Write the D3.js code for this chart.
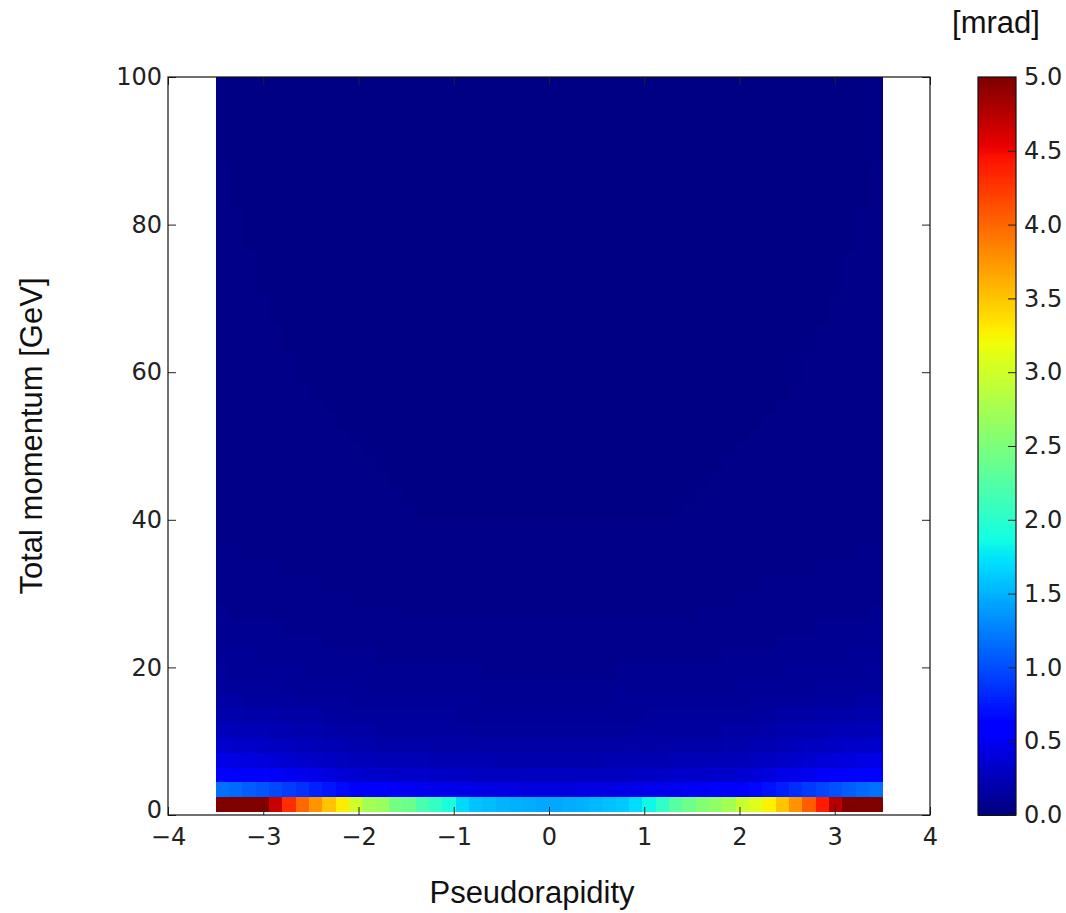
<!DOCTYPE html>
<html>
<head>
<meta charset="utf-8">
<script src="https://cdn.jsdelivr.net/npm/d3@7"></script>
<style>
  body { margin: 0; background: #fff; }
  svg { display: block; }
  .tick text { font-family: "DejaVu Sans", sans-serif; font-size: 24px; fill: #222; }
  .tick line { stroke: #222; stroke-width: 1; }
  .label { font-family: "Liberation Sans", Arial, sans-serif; font-size: 31px; fill: #111; }
</style>
</head>
<body>
<svg id="chart" width="1066" height="913"></svg>
<script>
// Pseudorapidity bin edges: 50 bins between -3.5 and 3.5
const etaEdges = d3.range(51).map(i => +(-3.5 + 0.14 * i).toFixed(2));

// Total momentum bin edges [GeV]
const momentumEdges = [0.5, 2.5, 4.5, 6.5, 8.5, 10.5, 12.5, 14.5, 16.5, 18.5, 20.5,
  22.5, 24.5, 26.5, 28.5, 30.5, 32.5, 34.5, 36.5, 38.5, 40.5, 42.5, 44.5, 46.5, 48.5,
  50.5, 52.5, 54.5, 56.5, 58.5, 60.5, 62.5, 64.5, 66.5, 68.5, 70.5, 72.5, 74.5, 76.5,
  78.5, 80.5, 82.5, 84.5, 86.5, 88.5, 90.5, 92.5, 94.5, 96.5, 98.5, 100];

// Angular resolution [mrad], one row per momentum bin (lowest first), one value per eta bin
const thetaRows = [
  [6.6,6.1,5.6,5.15,4.67,4.3,4.0,3.75,3.5,3.3,3.0,2.75,2.68,2.45,2.4,2.2,2.06,1.9,1.69,1.6,1.56,1.52,1.5,1.48,1.45,
   1.45,1.47,1.5,1.53,1.57,1.62,1.7,1.85,2.05,2.28,2.42,2.55,2.62,2.75,2.95,3.1,3.28,3.5,3.75,4.05,4.4,4.75,5.2,5.7,6.2],
  [1.18,1.15,1.08,1.04,.98,.92,.86,.8,.73,.67,.62,.58,.55,.53,.51,.5,.48,.47,.46,.45,.44,.43,.43,.42,.42,
   .42,.42,.43,.43,.44,.45,.46,.47,.48,.5,.51,.53,.55,.58,.62,.66,.72,.78,.84,.9,.96,1.02,1.08,1.14,1.18],
  [.62,.61,.58,.56,.53,.50,.48,.45,.42,.39,.37,.35,.34,.33,.32,.32,.31,.30,.30,.29,.29,.28,.28,.28,.28,
   .28,.28,.28,.28,.29,.29,.30,.30,.31,.32,.32,.33,.34,.35,.37,.39,.42,.45,.48,.50,.53,.56,.58,.61,.62],
  [.45,.44,.42,.41,.39,.37,.35,.33,.31,.29,.27,.26,.25,.24,.24,.24,.23,.23,.22,.22,.22,.21,.21,.21,.21,
   .21,.21,.21,.21,.22,.22,.22,.23,.23,.24,.24,.24,.25,.26,.27,.29,.31,.33,.35,.37,.39,.41,.42,.44,.45],
  [.34,.33,.32,.31,.29,.28,.26,.25,.23,.22,.21,.20,.19,.19,.18,.18,.17,.17,.17,.17,.16,.16,.16,.16,.16,
   .16,.16,.16,.16,.16,.17,.17,.17,.17,.18,.18,.19,.19,.20,.21,.22,.23,.25,.26,.28,.29,.31,.32,.33,.34],
  [.26,.25,.24,.24,.23,.22,.21,.20,.18,.17,.16,.16,.15,.15,.15,.14,.14,.14,.14,.13,.13,.13,.13,.13,.13,
   .13,.13,.13,.13,.13,.13,.14,.14,.14,.14,.15,.15,.15,.16,.16,.17,.18,.20,.21,.22,.23,.24,.24,.25,.26],
  [.20,.20,.19,.18,.18,.17,.16,.16,.15,.14,.13,.13,.13,.12,.12,.12,.12,.12,.11,.11,.11,.11,.11,.11,.11,
   .11,.11,.11,.11,.11,.11,.11,.12,.12,.12,.12,.12,.13,.13,.13,.14,.15,.16,.16,.17,.18,.18,.19,.20,.20],
  [.16,.16,.15,.15,.14,.14,.13,.13,.12,.12,.11,.11,.11,.10,.10,.10,.10,.10,.10,.10,.09,.09,.09,.09,.09,
   .09,.09,.09,.09,.09,.10,.10,.10,.10,.10,.10,.10,.11,.11,.11,.12,.12,.13,.13,.14,.14,.15,.15,.16,.16],
  [.13,.13,.12,.12,.12,.11,.11,.11,.10,.10,.10,.09,.09,.09,.09,.09,.09,.09,.09,.08,.08,.08,.08,.08,.08,
   .08,.08,.08,.08,.08,.08,.09,.09,.09,.09,.09,.09,.09,.09,.10,.10,.10,.11,.11,.11,.12,.12,.12,.13,.13],
  [.12,.11,.11,.11,.10,.10,.10,.09,.09,.09,.09,.08,.08,.08,.08,.08,.08,.08,.08,.08,.07,.07,.07,.07,.07,
   .07,.07,.07,.07,.07,.08,.08,.08,.08,.08,.08,.08,.08,.08,.09,.09,.09,.09,.10,.10,.10,.11,.11,.11,.12],
  [.10,.10,.10,.09,.09,.09,.09,.08,.08,.08,.08,.08,.07,.07,.07,.07,.07,.07,.07,.07,.07,.07,.07,.07,.07,
   .07,.07,.07,.07,.07,.07,.07,.07,.07,.07,.07,.07,.07,.08,.08,.08,.08,.08,.09,.09,.09,.09,.10,.10,.10],
  [.09,.09,.09,.08,.08,.08,.08,.08,.07,.07,.07,.07,.07,.07,.07,.06,.06,.06,.06,.06,.06,.06,.06,.06,.06,
   .06,.06,.06,.06,.06,.06,.06,.06,.06,.06,.07,.07,.07,.07,.07,.07,.07,.08,.08,.08,.08,.08,.09,.09,.09],
  [.08,.08,.08,.08,.08,.07,.07,.07,.07,.07,.06,.06,.06,.06,.06,.06,.06,.06,.06,.06,.06,.06,.06,.06,.06,
   .06,.06,.06,.06,.06,.06,.06,.06,.06,.06,.06,.06,.06,.06,.06,.07,.07,.07,.07,.07,.08,.08,.08,.08,.08],
  [.08,.07,.07,.07,.07,.07,.07,.06,.06,.06,.06,.06,.06,.06,.05,.05,.05,.05,.05,.05,.05,.05,.05,.05,.05,
   .05,.05,.05,.05,.05,.05,.05,.05,.05,.05,.05,.06,.06,.06,.06,.06,.06,.06,.07,.07,.07,.07,.07,.07,.08],
  [.07,.07,.07,.07,.06,.06,.06,.06,.06,.06,.05,.05,.05,.05,.05,.05,.05,.05,.05,.05,.05,.05,.05,.05,.05,
   .05,.05,.05,.05,.05,.05,.05,.05,.05,.05,.05,.05,.05,.05,.06,.06,.06,.06,.06,.06,.07,.07,.07,.07,.07],
  [.07,.06,.06,.06,.06,.06,.06,.06,.05,.05,.05,.05,.05,.05,.05,.05,.05,.05,.04,.04,.04,.04,.04,.04,.04,
   .04,.04,.04,.04,.04,.04,.04,.05,.05,.05,.05,.05,.05,.05,.05,.05,.06,.06,.06,.06,.06,.06,.06,.06,.07],
  [.06,.06,.06,.06,.06,.05,.05,.05,.05,.05,.05,.05,.05,.04,.04,.04,.04,.04,.04,.04,.04,.04,.04,.04,.04,
   .04,.04,.04,.04,.04,.04,.04,.04,.04,.04,.04,.04,.05,.05,.05,.05,.05,.05,.05,.05,.06,.06,.06,.06,.06],
  [.06,.06,.05,.05,.05,.05,.05,.05,.05,.05,.04,.04,.04,.04,.04,.04,.04,.04,.04,.04,.04,.04,.04,.04,.04,
   .04,.04,.04,.04,.04,.04,.04,.04,.04,.04,.04,.04,.04,.04,.04,.05,.05,.05,.05,.05,.05,.05,.05,.06,.06],
  [.05,.05,.05,.05,.05,.05,.05,.05,.04,.04,.04,.04,.04,.04,.04,.04,.04,.04,.04,.04,.04,.04,.04,.04,.04,
   .04,.04,.04,.04,.04,.04,.04,.04,.04,.04,.04,.04,.04,.04,.04,.04,.05,.05,.05,.05,.05,.05,.05,.05,.05],
  [.05,.05,.05,.05,.05,.05,.05,.04,.04,.04,.04,.04,.04,.04,.04,.04,.04,.04,.04,.04,.04,.04,.04,.04,.04,
   .04,.04,.04,.04,.04,.04,.04,.04,.04,.04,.04,.04,.04,.04,.04,.04,.04,.04,.05,.05,.05,.05,.05,.05,.05],
  [.05,.05,.05,.05,.05,.04,.04,.04,.04,.04,.04,.04,.04,.04,.04,.03,.03,.03,.03,.03,.03,.03,.03,.03,.03,
   .03,.03,.03,.03,.03,.03,.03,.03,.03,.03,.04,.04,.04,.04,.04,.04,.04,.04,.04,.04,.05,.05,.05,.05,.05],
  [.05,.05,.05,.05,.04,.04,.04,.04,.04,.04,.04,.04,.04,.04,.03,.03,.03,.03,.03,.03,.03,.03,.03,.03,.03,
   .03,.03,.03,.03,.03,.03,.03,.03,.03,.03,.03,.04,.04,.04,.04,.04,.04,.04,.04,.04,.04,.05,.05,.05,.05],
  [.05,.05,.05,.04,.04,.04,.04,.04,.04,.04,.04,.04,.04,.03,.03,.03,.03,.03,.03,.03,.03,.03,.03,.03,.03,
   .03,.03,.03,.03,.03,.03,.03,.03,.03,.03,.03,.03,.04,.04,.04,.04,.04,.04,.04,.04,.04,.04,.05,.05,.05],
  [.05,.05,.04,.04,.04,.04,.04,.04,.04,.04,.04,.04,.03,.03,.03,.03,.03,.03,.03,.03,.03,.03,.03,.03,.03,
   .03,.03,.03,.03,.03,.03,.03,.03,.03,.03,.03,.03,.03,.04,.04,.04,.04,.04,.04,.04,.04,.04,.04,.05,.05],
  [.05,.04,.04,.04,.04,.04,.04,.04,.04,.04,.04,.03,.03,.03,.03,.03,.03,.03,.03,.03,.03,.03,.03,.03,.03,
   .03,.03,.03,.03,.03,.03,.03,.03,.03,.03,.03,.03,.03,.03,.04,.04,.04,.04,.04,.04,.04,.04,.04,.04,.05],
  [.04,.04,.04,.04,.04,.04,.04,.04,.04,.04,.03,.03,.03,.03,.03,.03,.03,.03,.03,.03,.03,.03,.03,.03,.03,
   .03,.03,.03,.03,.03,.03,.03,.03,.03,.03,.03,.03,.03,.03,.03,.04,.04,.04,.04,.04,.04,.04,.04,.04,.04],
  [.04,.04,.04,.04,.04,.04,.04,.04,.04,.03,.03,.03,.03,.03,.03,.03,.03,.03,.03,.03,.03,.03,.03,.03,.03,
   .03,.03,.03,.03,.03,.03,.03,.03,.03,.03,.03,.03,.03,.03,.03,.03,.04,.04,.04,.04,.04,.04,.04,.04,.04],
  [.04,.04,.04,.04,.04,.04,.04,.04,.03,.03,.03,.03,.03,.03,.03,.03,.03,.03,.03,.03,.03,.03,.03,.03,.03,
   .03,.03,.03,.03,.03,.03,.03,.03,.03,.03,.03,.03,.03,.03,.03,.03,.03,.04,.04,.04,.04,.04,.04,.04,.04],
  [.04,.04,.04,.04,.04,.04,.04,.03,.03,.03,.03,.03,.03,.03,.03,.03,.03,.03,.03,.03,.03,.03,.03,.03,.03,
   .03,.03,.03,.03,.03,.03,.03,.03,.03,.03,.03,.03,.03,.03,.03,.03,.03,.03,.04,.04,.04,.04,.04,.04,.04],
  [.04,.04,.04,.04,.04,.04,.03,.03,.03,.03,.03,.03,.03,.03,.03,.03,.03,.03,.03,.03,.03,.03,.03,.03,.03,
   .03,.03,.03,.03,.03,.03,.03,.03,.03,.03,.03,.03,.03,.03,.03,.03,.03,.03,.03,.04,.04,.04,.04,.04,.04],
  [.04,.04,.04,.04,.04,.04,.03,.03,.03,.03,.03,.03,.03,.03,.03,.03,.03,.03,.03,.03,.03,.03,.03,.03,.03,
   .03,.03,.03,.03,.03,.03,.03,.03,.03,.03,.03,.03,.03,.03,.03,.03,.03,.03,.03,.04,.04,.04,.04,.04,.04],
  [.04,.04,.04,.04,.04,.03,.03,.03,.03,.03,.03,.03,.03,.03,.03,.03,.03,.03,.03,.03,.03,.03,.03,.03,.03,
   .03,.03,.03,.03,.03,.03,.03,.03,.03,.03,.03,.03,.03,.03,.03,.03,.03,.03,.03,.03,.04,.04,.04,.04,.04],
  [.04,.04,.04,.04,.04,.03,.03,.03,.03,.03,.03,.03,.03,.03,.03,.03,.03,.03,.03,.03,.03,.03,.03,.03,.03,
   .03,.03,.03,.03,.03,.03,.03,.03,.03,.03,.03,.03,.03,.03,.03,.03,.03,.03,.03,.03,.04,.04,.04,.04,.04],
  [.04,.04,.04,.04,.03,.03,.03,.03,.03,.03,.03,.03,.03,.03,.03,.03,.03,.03,.03,.03,.03,.03,.03,.03,.03,
   .03,.03,.03,.03,.03,.03,.03,.03,.03,.03,.03,.03,.03,.03,.03,.03,.03,.03,.03,.03,.03,.04,.04,.04,.04],
  [.04,.04,.04,.04,.03,.03,.03,.03,.03,.03,.03,.03,.03,.03,.03,.03,.03,.03,.03,.03,.03,.03,.03,.03,.03,
   .03,.03,.03,.03,.03,.03,.03,.03,.03,.03,.03,.03,.03,.03,.03,.03,.03,.03,.03,.03,.03,.04,.04,.04,.04],
  [.04,.04,.04,.03,.03,.03,.03,.03,.03,.03,.03,.03,.03,.03,.03,.03,.03,.03,.03,.03,.03,.03,.03,.03,.03,
   .03,.03,.03,.03,.03,.03,.03,.03,.03,.03,.03,.03,.03,.03,.03,.03,.03,.03,.03,.03,.03,.03,.04,.04,.04],
  [.04,.04,.04,.03,.03,.03,.03,.03,.03,.03,.03,.03,.03,.03,.03,.03,.03,.03,.03,.03,.03,.03,.03,.03,.03,
   .03,.03,.03,.03,.03,.03,.03,.03,.03,.03,.03,.03,.03,.03,.03,.03,.03,.03,.03,.03,.03,.03,.04,.04,.04],
  [.04,.04,.04,.03,.03,.03,.03,.03,.03,.03,.03,.03,.03,.03,.03,.03,.03,.03,.03,.03,.03,.03,.03,.03,.03,
   .03,.03,.03,.03,.03,.03,.03,.03,.03,.03,.03,.03,.03,.03,.03,.03,.03,.03,.03,.03,.03,.03,.04,.04,.04],
  [.04,.04,.03,.03,.03,.03,.03,.03,.03,.03,.03,.03,.03,.03,.03,.03,.03,.03,.03,.03,.03,.03,.03,.03,.03,
   .03,.03,.03,.03,.03,.03,.03,.03,.03,.03,.03,.03,.03,.03,.03,.03,.03,.03,.03,.03,.03,.03,.03,.04,.04],
  [.04,.04,.03,.03,.03,.03,.03,.03,.03,.03,.03,.03,.03,.03,.03,.03,.03,.03,.03,.03,.03,.03,.03,.03,.03,
   .03,.03,.03,.03,.03,.03,.03,.03,.03,.03,.03,.03,.03,.03,.03,.03,.03,.03,.03,.03,.03,.03,.03,.04,.04],
  [.04,.04,.03,.03,.03,.03,.03,.03,.03,.03,.03,.03,.03,.03,.03,.03,.03,.03,.03,.03,.03,.03,.03,.03,.03,
   .03,.03,.03,.03,.03,.03,.03,.03,.03,.03,.03,.03,.03,.03,.03,.03,.03,.03,.03,.03,.03,.03,.03,.04,.04],
  [.04,.03,.03,.03,.03,.03,.03,.03,.03,.03,.03,.03,.03,.03,.03,.03,.03,.03,.03,.03,.03,.03,.03,.03,.03,
   .03,.03,.03,.03,.03,.03,.03,.03,.03,.03,.03,.03,.03,.03,.03,.03,.03,.03,.03,.03,.03,.03,.03,.03,.04],
  [.04,.03,.03,.03,.03,.03,.03,.03,.03,.03,.03,.03,.03,.03,.03,.03,.03,.03,.03,.03,.03,.03,.03,.03,.03,
   .03,.03,.03,.03,.03,.03,.03,.03,.03,.03,.03,.03,.03,.03,.03,.03,.03,.03,.03,.03,.03,.03,.03,.03,.04],
  [.04,.03,.03,.03,.03,.03,.03,.03,.03,.03,.03,.03,.03,.03,.03,.03,.03,.03,.03,.03,.03,.03,.03,.03,.03,
   .03,.03,.03,.03,.03,.03,.03,.03,.03,.03,.03,.03,.03,.03,.03,.03,.03,.03,.03,.03,.03,.03,.03,.03,.04],
  [.03,.03,.03,.03,.03,.03,.03,.03,.03,.03,.03,.03,.03,.03,.03,.03,.03,.03,.03,.03,.03,.03,.03,.03,.03,
   .03,.03,.03,.03,.03,.03,.03,.03,.03,.03,.03,.03,.03,.03,.03,.03,.03,.03,.03,.03,.03,.03,.03,.03,.03],
  [.03,.03,.03,.03,.03,.03,.03,.03,.03,.03,.03,.03,.03,.03,.03,.03,.03,.03,.03,.03,.03,.03,.03,.03,.03,
   .03,.03,.03,.03,.03,.03,.03,.03,.03,.03,.03,.03,.03,.03,.03,.03,.03,.03,.03,.03,.03,.03,.03,.03,.03],
  [.03,.03,.03,.03,.03,.03,.03,.03,.03,.03,.03,.03,.03,.03,.03,.03,.03,.03,.03,.03,.03,.03,.03,.03,.03,
   .03,.03,.03,.03,.03,.03,.03,.03,.03,.03,.03,.03,.03,.03,.03,.03,.03,.03,.03,.03,.03,.03,.03,.03,.03],
  [.03,.03,.03,.03,.03,.03,.03,.03,.03,.03,.03,.03,.03,.03,.03,.03,.03,.03,.03,.03,.03,.03,.03,.03,.03,
   .03,.03,.03,.03,.03,.03,.03,.03,.03,.03,.03,.03,.03,.03,.03,.03,.03,.03,.03,.03,.03,.03,.03,.03,.03],
  [.03,.03,.03,.03,.03,.03,.03,.03,.03,.03,.03,.03,.03,.03,.03,.03,.03,.03,.03,.03,.03,.03,.03,.03,.03,
   .03,.03,.03,.03,.03,.03,.03,.03,.03,.03,.03,.03,.03,.03,.03,.03,.03,.03,.03,.03,.03,.03,.03,.03,.03],
  [.03,.03,.03,.03,.03,.03,.03,.03,.03,.03,.03,.03,.03,.03,.03,.03,.03,.03,.03,.03,.03,.03,.03,.03,.03,
   .03,.03,.03,.03,.03,.03,.03,.03,.03,.03,.03,.03,.03,.03,.03,.03,.03,.03,.03,.03,.03,.03,.03,.03,.03]
];

const xTicks = [-4, -3, -2, -1, 0, 1, 2, 3, 4];
const yTicks = [0, 20, 40, 60, 80, 100];
const colorTicks = [0, 0.5, 1, 1.5, 2, 2.5, 3, 3.5, 4, 4.5, 5];
const colorRange = [0, 5];

// Jet colormap (segment definition), sampled into a 256-entry lookup table
const jetR = d3.scaleLinear().domain([0, 0.35, 0.66, 0.89, 1]).range([0, 0, 1, 1, 0.5]).clamp(true);
const jetG = d3.scaleLinear().domain([0, 0.125, 0.375, 0.64, 0.91, 1]).range([0, 0, 1, 1, 0, 0]).clamp(true);
const jetB = d3.scaleLinear().domain([0, 0.11, 0.34, 0.65, 1]).range([0.5, 1, 1, 0, 0]).clamp(true);
const jetLUT = d3.range(256).map(i => {
  const t = i / 255;
  return d3.rgb(Math.round(jetR(t) * 255), Math.round(jetG(t) * 255), Math.round(jetB(t) * 255)).formatHex();
});
const norm = d3.scaleLinear().domain(colorRange).range([0, 1]).clamp(true);
const colorOf = v => jetLUT[Math.min(255, Math.floor(norm(v) * 256))];

const svg = d3.select("#chart");
const plot = { left: 168, right: 930, top: 77, bottom: 815 };
const x = d3.scaleLinear().domain([-4, 4]).range([plot.left, plot.right]);
const y = d3.scaleLinear().domain([0, 100]).range([plot.bottom, plot.top]);

// Heatmap cells
const cells = [];
thetaRows.forEach((row, k) => {
  row.forEach((v, i) => {
    cells.push({ e0: etaEdges[i], e1: etaEdges[i + 1], p0: momentumEdges[k], p1: momentumEdges[k + 1], v });
  });
});
svg.append("g")
  .attr("shape-rendering", "crispEdges")
  .selectAll("rect")
  .data(cells)
  .join("rect")
  .attr("x", d => x(d.e0))
  .attr("width", d => x(d.e1) - x(d.e0) + 0.5)
  .attr("y", d => y(d.p1))
  .attr("height", d => y(d.p0) - y(d.p1) + 0.5)
  .attr("fill", d => colorOf(d.v));

// Axes with inward ticks on all four sides
const tickLen = 8;
const gx = svg.append("g").attr("transform", `translate(0,${plot.bottom})`)
  .call(d3.axisBottom(x).tickValues(xTicks).tickFormat(d3.format("d")).tickSizeInner(-tickLen).tickSizeOuter(0).tickPadding(13));
const gxTop = svg.append("g").attr("transform", `translate(0,${plot.top})`)
  .call(d3.axisTop(x).tickValues(xTicks).tickFormat("").tickSizeInner(-tickLen).tickSizeOuter(0));
const gy = svg.append("g").attr("transform", `translate(${plot.left},0)`)
  .call(d3.axisLeft(y).tickValues(yTicks).tickFormat(d3.format("d")).tickSizeInner(-tickLen).tickSizeOuter(0).tickPadding(6));
const gyRight = svg.append("g").attr("transform", `translate(${plot.right},0)`)
  .call(d3.axisRight(y).tickValues(yTicks).tickFormat("").tickSizeInner(-tickLen).tickSizeOuter(0));
[gx, gxTop, gy, gyRight].forEach(g => g.select(".domain").remove());
[gx, gxTop, gy, gyRight].forEach(g => g.selectAll("line").attr("stroke", "#222"));
// keep the lowest y label clear of the x labels
gy.selectAll(".tick text").filter(d => d === 0).attr("dy", "0.12em");

svg.append("rect")
  .attr("x", plot.left).attr("y", plot.top)
  .attr("width", plot.right - plot.left).attr("height", plot.bottom - plot.top)
  .attr("fill", "none").attr("stroke", "#111").attr("stroke-width", 1.2);

// Axis titles
svg.append("text").attr("class", "label")
  .attr("x", 532).attr("y", 903)
  .attr("text-anchor", "middle").text("Pseudorapidity");
svg.append("text").attr("class", "label")
  .attr("transform", `translate(42,436) rotate(-90)`)
  .attr("text-anchor", "middle").attr("font-size", "32px").text("Total momentum [GeV]");

// Colorbar
const cb = { left: 978, right: 1016 };
const cy = d3.scaleLinear().domain(colorRange).range([plot.bottom, plot.top]);
const levels = d3.range(256);
svg.append("g").attr("shape-rendering", "crispEdges")
  .selectAll("rect")
  .data(levels)
  .join("rect")
  .attr("x", cb.left)
  .attr("width", cb.right - cb.left)
  .attr("y", i => cy(colorRange[0] + (i + 1) / 256 * (colorRange[1] - colorRange[0])))
  .attr("height", i => cy(colorRange[0] + i / 256 * (colorRange[1] - colorRange[0])) - cy(colorRange[0] + (i + 1) / 256 * (colorRange[1] - colorRange[0])) + 0.6)
  .attr("fill", i => jetLUT[i]);
const gc = svg.append("g").attr("transform", `translate(${cb.right},0)`)
  .call(d3.axisRight(cy).tickValues(colorTicks).tickFormat(d3.format(".1f")).tickSizeInner(-tickLen).tickSizeOuter(0).tickPadding(8));
gc.select(".domain").remove();
gc.selectAll("line").attr("stroke", "#222");
svg.append("rect")
  .attr("x", cb.left).attr("y", plot.top)
  .attr("width", cb.right - cb.left).attr("height", plot.bottom - plot.top)
  .attr("fill", "none").attr("stroke", "#111").attr("stroke-width", 1.2);

svg.append("text").attr("class", "label")
  .attr("x", 996).attr("y", 33)
  .attr("text-anchor", "middle").attr("font-size", "30px").text("[mrad]");
</script>
</body>
</html>
